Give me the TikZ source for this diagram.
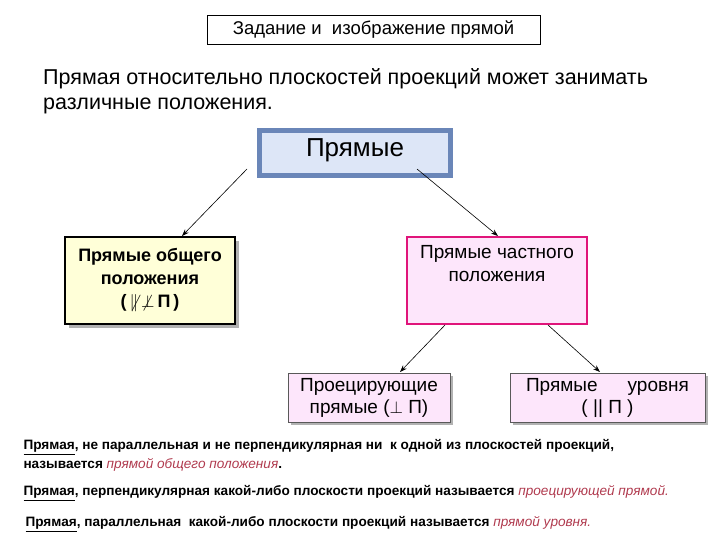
\documentclass[tikz,border=0pt]{standalone}
\usepackage{fontspec}
\setmainfont{Liberation Sans}
\usetikzlibrary{arrows.meta}
\newcommand\myul[1]{\underline{#1}}
\definecolor{bluebd}{HTML}{6A86B8}
\definecolor{bluefill}{HTML}{DDE6F7}
\definecolor{yel}{HTML}{FFFFD8}
\definecolor{mag}{HTML}{E0147A}
\definecolor{pinkf}{HTML}{FDE6FB}
\definecolor{redt}{HTML}{B03A4E}
\begin{document}
\begin{tikzpicture}[x=1pt,y=-1pt,
  box/.style={draw,align=center,inner sep=0pt},
  arr/.style={-{Stealth[length=7pt,width=5pt]},line width=0.6pt},
  def/.style={anchor=west,font=\fontsize{13.6}{16}\selectfont\bfseries}]
\useasboundingbox (0,0) rectangle (720,540);
\node[box,fill=white,minimum width=333,minimum height=29,font=\fontsize{18.5}{20}\selectfont] (t) at (373.5,29.5) {Задание и \ изображение прямой};
\node[anchor=north west,align=left,font=\fontsize{21.5}{25}\selectfont,inner sep=0] (p) at (43,68) {Прямая относительно плоскостей проекций может занимать\\различные положения.};
\node[box,draw=bluebd,line width=5pt,fill=bluefill,minimum width=191,minimum height=45,anchor=north] (pr) at (355,128.5) {};
\node[font=\fontsize{26}{28}\selectfont] (prt) at (355,150) {Прямые};
\fill[gray!60] (69,241) rectangle (239,328);
\node[box,fill=yel,line width=1.6pt,minimum width=170,minimum height=87,font=\fontsize{18}{23}\selectfont\bfseries] (g) at (150,280.5) {Прямые общего\\положения\\(\,$\not\parallel\,\not\perp$\,П\,)};
\node[box,draw=mag,fill=pinkf,line width=2.5pt,minimum width=180,minimum height=87] (c) at (497,280.5) {};
\node[align=center,font=\fontsize{19}{23}\selectfont] (ct) at (497,264) {Прямые частного\\положения};
\fill[gray!60] (291,376) rectangle (453,425);
\node[box,fill=pinkf,draw=gray!70!black,line width=0.6pt,minimum width=162,minimum height=49,font=\fontsize{19}{22}\selectfont] (pp) at (369,397.5) {Проецирующие\\прямые ($\perp$ П)};
\fill[gray!60] (513,376) rectangle (708,425);
\node[box,fill=pinkf,draw=gray!70!black,line width=0.6pt,minimum width=195,minimum height=49,font=\fontsize{19}{22}\selectfont] (pu) at (607.5,397.5) {Прямые\hspace{30pt}уровня\\( || П )};
\coordinate (s1) at (247,169);
\coordinate (s2) at (417,169);
\coordinate (s3) at (445,325);
\coordinate (s4) at (548,325);
\draw[arr] (s1) -- (182,236);
\draw[arr] (s2) -- (498,236);
\draw[arr] (s3) -- (400,372);
\draw[arr] (s4) -- (600,372);
\node[def] (d1) at (20,447) {\myul{Прямая}, не параллельная и не перпендикулярная ни \ к одной из плоскостей проекций,};
\node[def] (d2) at (20,465) {называется \textcolor{redt}{\itshape\mdseries прямой общего положения}.};
\node[def] (d3) at (20,493) {\myul{Прямая}, перпендикулярная какой-либо плоскости проекций называется \textcolor{redt}{\itshape\mdseries проецирующей прямой.}};
\node[def] (d4) at (22,524) {\myul{Прямая}, параллельная \ какой-либо плоскости проекций называется \textcolor{redt}{\itshape\mdseries прямой уровня.}};
\end{tikzpicture}
\end{document}
